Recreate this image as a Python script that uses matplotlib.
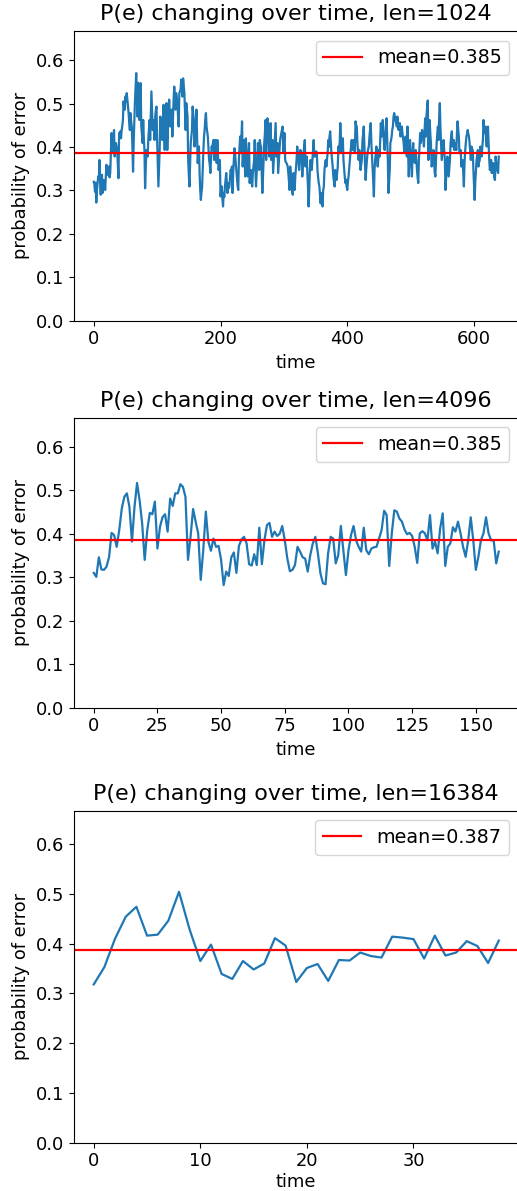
import numpy as np
import matplotlib
matplotlib.use("Agg")
import matplotlib.pyplot as plt
from matplotlib.ticker import MultipleLocator

# probability of error per time step, block length 1024 (values in thousandths)
pe_1024 = np.array([
    320, 315, 297, 318, 272, 300, 317, 332, 326, 370,
    318, 290, 325, 336, 294, 310, 324, 318, 301, 330,
    359, 345, 336, 348, 355, 330, 340, 385, 432, 405,
    386, 420, 439, 378, 395, 409, 401, 393, 360, 328,
    432, 425, 436, 420, 439, 448, 462, 505, 490, 486,
    516, 505, 524, 510, 493, 478, 455, 439, 478, 460,
    447, 400, 343, 410, 462, 505, 539, 570, 520, 470,
    548, 500, 462, 510, 547, 447, 430, 409, 462, 420,
    393, 305, 350, 393, 385, 378, 416, 440, 462, 416,
    470, 528, 480, 439, 462, 440, 416, 470, 485, 493,
    416, 360, 309, 350, 393, 470, 445, 424, 416, 460,
    497, 440, 393, 493, 498, 501, 393, 440, 478, 509,
    475, 447, 470, 486, 424, 470, 509, 539, 510, 486,
    524, 512, 501, 470, 447, 524, 528, 532, 555, 530,
    516, 558, 540, 524, 480, 439, 501, 485, 470, 370,
    335, 309, 360, 409, 425, 439, 493, 475, 462, 401,
    440, 447, 486, 420, 363, 380, 401, 340, 300, 278,
    295, 309, 350, 393, 424, 440, 465, 478, 447, 435,
    424, 395, 370, 360, 340, 370, 401, 395, 410, 416,
    370, 395, 416, 390, 363, 416, 380, 347, 360, 370,
    286, 300, 309, 280, 263, 294, 285, 309, 325, 340,
    315, 294, 317, 305, 309, 330, 347, 340, 355, 294,
    340, 370, 397, 385, 363, 345, 324, 310, 301, 370,
    400, 424, 386, 420, 459, 355, 390, 416, 370, 332,
    420, 390, 363, 332, 370, 409, 317, 335, 347, 320,
    309, 340, 355, 370, 416, 350, 309, 340, 370, 409,
    380, 347, 416, 405, 401, 340, 294, 330, 370, 409,
    430, 462, 370, 420, 466, 445, 432, 378, 420, 455,
    370, 395, 416, 340, 370, 401, 430, 455, 378, 395,
    409, 340, 365, 386, 416, 425, 432, 440, 447, 386,
    410, 432, 370, 365, 363, 360, 355, 340, 320, 301,
    355, 330, 309, 300, 290, 340, 320, 301, 332, 350,
    370, 401, 385, 370, 347, 370, 393, 385, 378, 332,
    360, 386, 400, 416, 355, 365, 378, 340, 309, 263,
    300, 347, 370, 355, 347, 370, 395, 416, 378, 385,
    378, 390, 386, 347, 330, 317, 309, 290, 270, 294,
    280, 263, 300, 309, 347, 360, 370, 355, 370, 386,
    416, 400, 424, 436, 410, 386, 370, 355, 332, 320,
    309, 347, 335, 324, 340, 355, 401, 390, 409, 455,
    420, 386, 400, 420, 370, 350, 332, 317, 325, 309,
    301, 320, 332, 350, 370, 386, 400, 416, 393, 405,
    416, 400, 386, 459, 450, 447, 409, 390, 370, 393,
    370, 347, 360, 370, 416, 430, 447, 401, 360, 324,
    350, 370, 386, 395, 401, 424, 440, 455, 409, 380,
    355, 320, 286, 347, 370, 386, 401, 380, 355, 375,
    393, 378, 420, 455, 424, 440, 462, 432, 410, 393,
    420, 447, 466, 420, 370, 294, 320, 347, 409, 415,
    424, 440, 447, 470, 478, 470, 462, 455, 447, 470,
    455, 439, 450, 455, 424, 435, 447, 432, 420, 409,
    386, 400, 424, 400, 378, 447, 390, 332, 370, 416,
    386, 360, 332, 380, 409, 370, 365, 363, 393, 370,
    347, 330, 317, 370, 400, 432, 409, 425, 439, 420,
    416, 401, 440, 466, 424, 470, 493, 507, 370, 420,
    462, 430, 409, 355, 360, 363, 393, 365, 340, 332,
    370, 409, 430, 447, 416, 470, 501, 447, 410, 370,
    386, 400, 416, 390, 370, 301, 330, 347, 378, 355,
    332, 350, 370, 409, 425, 436, 401, 410, 416, 393,
    400, 409, 393, 430, 459, 440, 424, 386, 390, 393,
    355, 365, 370, 340, 309, 363, 390, 409, 424, 430,
    439, 430, 424, 409, 390, 370, 401, 395, 393, 347,
    310, 278, 320, 347, 370, 380, 393, 355, 365, 370,
    401, 390, 378, 400, 416, 462, 440, 432, 447, 420,
    401, 430, 447, 409, 370, 347, 360, 370, 340, 355,
    363, 343, 330, 324, 378, 365, 355, 345, 340, 378,
]) / 1000.0

# block length 4096
pe_4096 = np.array([
    0.310, 0.301, 0.346, 0.318, 0.317, 0.324, 0.346, 0.402, 0.397, 0.370,
    0.408, 0.458, 0.485, 0.493, 0.462, 0.382, 0.462, 0.517, 0.477, 0.424,
    0.340, 0.408, 0.448, 0.445, 0.474, 0.366, 0.416, 0.438, 0.445, 0.405,
    0.481, 0.464, 0.493, 0.493, 0.514, 0.508, 0.485, 0.340, 0.393, 0.457,
    0.428, 0.401, 0.294, 0.363, 0.451, 0.382, 0.361, 0.389, 0.370, 0.372,
    0.340, 0.282, 0.313, 0.303, 0.346, 0.357, 0.310, 0.372, 0.387, 0.393,
    0.378, 0.330, 0.327, 0.353, 0.328, 0.414, 0.330, 0.385, 0.420, 0.425,
    0.393, 0.405, 0.395, 0.400, 0.418, 0.385, 0.343, 0.314, 0.317, 0.328,
    0.370, 0.359, 0.346, 0.343, 0.313, 0.351, 0.378, 0.393, 0.355, 0.309,
    0.286, 0.284, 0.355, 0.393, 0.389, 0.332, 0.351, 0.418, 0.362, 0.305,
    0.362, 0.397, 0.418, 0.385, 0.370, 0.359, 0.414, 0.362, 0.353, 0.366,
    0.369, 0.370, 0.389, 0.408, 0.453, 0.443, 0.326, 0.401, 0.454, 0.451,
    0.435, 0.428, 0.410, 0.399, 0.402, 0.395, 0.370, 0.333, 0.401, 0.406,
    0.401, 0.385, 0.443, 0.366, 0.382, 0.355, 0.412, 0.447, 0.326, 0.370,
    0.378, 0.415, 0.405, 0.428, 0.401, 0.370, 0.347, 0.385, 0.438, 0.385,
    0.317, 0.347, 0.385, 0.401, 0.438, 0.401, 0.385, 0.385, 0.332, 0.359,
])

# block length 16384
pe_16384 = np.array([
    0.318, 0.353, 0.410, 0.454, 0.474, 0.416, 0.418, 0.446, 0.504, 0.428,
    0.365, 0.398, 0.339, 0.329, 0.365, 0.348, 0.360, 0.411, 0.396, 0.323,
    0.351, 0.359, 0.325, 0.367, 0.366, 0.382, 0.375, 0.372, 0.414, 0.412,
    0.409, 0.370, 0.416, 0.376, 0.382, 0.405, 0.395, 0.361, 0.406,
])

block_lengths = [1024, 4096, 16384]
series = [pe_1024, pe_4096, pe_16384]
mean_values = [0.385, 0.385, 0.387]

W, H = 517, 1191
fig = plt.figure(figsize=(W / 100, H / 100), dpi=100)

# axes boxes in pixels: (left, top, right, bottom), x tick step, xlabel pad
boxes = [(73.5, 31.0, 519.0, 320.7, 200, 4.0),
         (73.5, 417.7, 519.0, 707.7, 25, 4.0),
         (73.5, 810.7, 519.0, 1142.7, 10, 1.5)]

fs = 12.9
for (l, t, r, b, step, lpad), n, pe, m in zip(boxes, block_lengths, series, mean_values):
    ax = fig.add_axes([l / W, 1 - b / H, (r - l) / W, (b - t) / H])
    ax.plot(np.arange(len(pe)), pe, color="#1f77b4", lw=1.6)
    ax.axhline(m, color="red", lw=1.6, label=f"mean={m:.3f}")
    ax.set_ylim(0, 0.667)
    ax.xaxis.set_major_locator(MultipleLocator(step))
    ax.set_title(f"P(e) changing over time, len={n}", fontsize=16, pad=8)
    ax.set_xlabel("time", fontsize=fs, labelpad=lpad)
    ax.set_ylabel("probability of error", fontsize=fs)
    ax.tick_params(labelsize=fs)
    ax.legend(loc="upper right", fontsize=13.8)

fig.savefig("out.png", dpi=100)
